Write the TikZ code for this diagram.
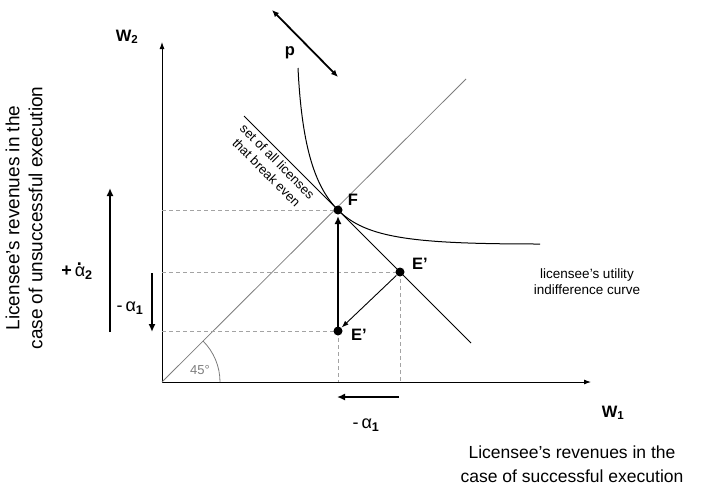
\documentclass[tikz,border=0pt]{standalone}
\usepackage{fontspec}
\setmainfont{Liberation Sans}
\usetikzlibrary{arrows.meta}
\definecolor{dashgrey}{HTML}{A3A3A3}
\definecolor{diaggrey}{HTML}{7D7D7D}
\newcommand{\dotalpha}{\rlap{\kern0.12em\raisebox{0.62em}{\bfseries .}}α}

\begin{document}
\begin{tikzpicture}[x=1pt, y=1pt, line join=round, font=\fontsize{18}{22}\selectfont,
  dashline/.style={dashgrey, line width=0.9, dash pattern=on 4pt off 3pt},
  dot/.style={circle, fill=black, inner sep=0pt, minimum size=9pt},
  fatarrow/.style={line width=2.6, -{Latex[length=8pt,width=7pt]}},
  ptlabel/.style={font=\fontsize{16.5}{19}\selectfont\bfseries},
  smalltext/.style={font=\fontsize{13.5}{16}\selectfont}]
  \useasboundingbox (0,0) rectangle (706,-493);
  % points
  \coordinate (O) at (162,-382);
  \coordinate (ytop) at (162,-42);
  \coordinate (xend) at (591,-382);
  \coordinate (F) at (338,-210);
  \coordinate (Eup) at (400,-272);
  \coordinate (Elow) at (338,-331);
  % axes + 45 deg line
  \draw[line width=0.9, {Latex[length=7pt,width=5pt]}-{Latex[length=7pt,width=5pt]}] (xend) -- (O) -- (ytop);
  \coordinate (diagend) at (466,-79);
  \draw[diaggrey, line width=0.8] (O) -- (diagend);
  \draw[diaggrey, line width=0.8] (O) ++(58,0) arc[start angle=0, end angle=45, radius=58];
  \node[diaggrey, font=\fontsize{13}{15}\selectfont] (ang) at (200,-370) {45\textdegree};
  % dashed guides
  \draw[dashline] (O |- F) -- (F);
  \draw[dashline] (O |- Eup) -- (Eup);
  \draw[dashline] (O |- Elow) -- (Elow);
  \draw[dashline] (Elow) -- (Elow |- O);
  \draw[dashline] (Eup) -- (Eup |- O);
  % break-even line + indifference curve
  \coordinate (be1) at (244,-116);
  \coordinate (be2) at (471,-343);
  \draw[line width=1] (be1) -- (be2);
  \node[font=\fontsize{13}{15.5}\selectfont, rotate=-45, anchor=north, align=center, inner sep=0pt] (betext) at (281,-158) {set of all licenses\\that break even};
  \coordinate (ic1) at (298,-68);
  \coordinate (ic2) at (540,-244);
  \draw[line width=1] (ic1) .. controls (302,-150) and (316,-188) .. (F)
    .. controls (366,-238) and (412,-244) .. (ic2);
  \node[smalltext, align=center] (iclbl) at (587,-282) {licensee’s utility\\indifference curve};
  % moves
  \draw[fatarrow, shorten >=6pt] (Elow) -- (F);
  \draw[line width=0.9, -{Latex[length=7pt,width=5pt]}, shorten >=5pt, shorten <=5pt] (Eup) -- (Elow);
  \node[dot] (Fdot) at (F) {};
  \node[dot] (Eupdot) at (Eup) {};
  \node[dot] (Elowdot) at (Elow) {};
  \node[ptlabel] (Flbl) at (353,-200) {F};
  \node[ptlabel] (Euplbl) at (420,-264) {E’};
  \node[ptlabel] (Elowlbl) at (359,-335) {E’};
  % price arrow
  \coordinate (p1) at (272,-10);
  \coordinate (p2) at (338,-77);
  \draw[line width=1.8, {Latex[length=7pt,width=6pt]}-{Latex[length=7pt,width=6pt]}] (p1) -- (p2);
  \node[ptlabel] (plbl) at (290,-53) {p};
  % alpha arrows
  \coordinate (a2bot) at (110,-332);
  \coordinate (a2top) at (110,-188);
  \draw[fatarrow] (a2bot) -- (a2top);
  \node (a2lbl) at (77,-271) {\textbf{+}\,\dotalpha\textsubscript{\bfseries 2}};
  \coordinate (a1top) at (152,-273);
  \coordinate (a1bot) at (152,-332);
  \draw[fatarrow, line width=1.8] (a1top) -- (a1bot);
  \node (a1lbl) at (130,-308) {-\,α\textsubscript{\bfseries 1}};
  \coordinate (b1r) at (399,-397);
  \coordinate (b1l) at (337,-397);
  \draw[fatarrow] (b1r) -- (b1l);
  \node (b1lbl) at (366,-425) {-\,α\textsubscript{\bfseries 1}};
  % axis labels
  \node[ptlabel] (w2) at (127,-37) {W\textsubscript{2}};
  \node[ptlabel] (w1) at (613,-413) {W\textsubscript{1}};
  \node[rotate=90, align=center, font=\fontsize{19}{23}\selectfont] (ylbl) at (24,-218) {Licensee’s revenues in the\\case of unsuccessful execution};
  \node[align=center, font=\fontsize{17.5}{24}\selectfont] (xlbl) at (572,-464) {Licensee’s revenues in the\\case of successful execution};
\end{tikzpicture}
\end{document}
